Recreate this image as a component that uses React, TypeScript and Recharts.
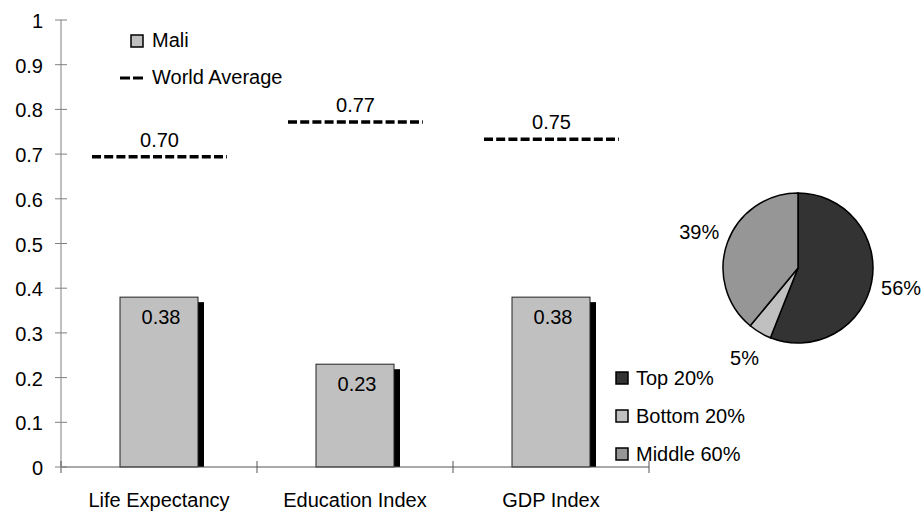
import React from 'react';
import { ComposedChart, Bar, XAxis, YAxis, Legend, LabelList, PieChart, Pie, Cell } from 'recharts';

// ---- data ----
const categories = ['Life Expectancy', 'Education Index', 'GDP Index'];
const maliValues = [0.38, 0.23, 0.38];
const maliLabels = ['0.38', '0.23', '0.38'];
const worldValues = [0.694, 0.772, 0.733];
const worldLabels = ['0.70', '0.77', '0.75'];
const yTicks = [0, 0.1, 0.2, 0.3, 0.4, 0.5, 0.6, 0.7, 0.8, 0.9, 1];
const yTickLabels = ['0', '0.1', '0.2', '0.3', '0.4', '0.5', '0.6', '0.7', '0.8', '0.9', '1'];
const pieNames = ['Top 20%', 'Bottom 20%', 'Middle 60%'];
const pieValues = [56, 5, 39];
const pieLabels = ['56%', '5%', '39%'];

const pieColors = ['#333333', '#c0c0c0', '#969696'];
const FONT = '"Liberation Sans", Arial, sans-serif';
const FS = 20;

const data = categories.map((name, i) => ({
  name,
  mali: maliValues[i],
  maliLabel: maliLabels[i],
  world: worldValues[i],
  worldLabel: worldLabels[i],
}));
const pieData = pieNames.map((name, i) => ({ name, value: pieValues[i], label: pieLabels[i] }));

// ---- layout ----
const W = 924;
const H = 512;
const PLOT_LEFT = 61;
const PLOT_RIGHT = 649;
const PLOT_TOP = 20;
const PLOT_BOTTOM = 467;
const BAND = (PLOT_RIGHT - PLOT_LEFT) / categories.length;

const YTick = (props: any) => {
  const { x, y, index } = props;
  return (
    <g>
      <line x1={x - 6} x2={x + 6} y1={y} y2={y} stroke="#808080" strokeWidth={1} />
      <text x={x - 18} y={y + 8} textAnchor="end" fontSize={FS} fontFamily={FONT} fill="#000">
        {yTickLabels[index]}
      </text>
    </g>
  );
};

const XTick = (props: any) => {
  const { x, y, payload, index } = props;
  const last = index === categories.length - 1;
  return (
    <g>
      <line x1={x - BAND / 2} x2={x - BAND / 2} y1={y - 6} y2={y + 6} stroke="#555" strokeWidth={1} />
      {last && <line x1={x + BAND / 2} x2={x + BAND / 2} y1={y - 6} y2={y + 6} stroke="#555" strokeWidth={1} />}
      <text x={x} y={y + 40} textAnchor="middle" fontSize={FS} fontFamily={FONT} fill="#000">
        {payload.value}
      </text>
    </g>
  );
};

const MaliBar = (props: any) => {
  const { x, y, width, height } = props;
  return (
    <g>
      <rect x={x + 6} y={y + 5} width={width} height={Math.max(0, height - 5)} fill="#000" />
      <rect x={x} y={y} width={width} height={height} fill="#c0c0c0" stroke="#222" strokeWidth={1} />
    </g>
  );
};

const WorldLine = (props: any) => {
  const { x, y, width } = props;
  return (
    <line x1={x} x2={x + width} y1={y} y2={y} stroke="#000" strokeWidth={3.5} strokeDasharray="9 3.2" />
  );
};

const MaliLabel = (props: any) => {
  const { x, y, width, value } = props;
  return (
    <text x={x + width / 2 + 2} y={y + 27} textAnchor="middle" fontSize={FS} fontFamily={FONT} fill="#000">
      {value}
    </text>
  );
};

const WorldLabel = (props: any) => {
  const { x, y, width, value } = props;
  return (
    <text x={x + width / 2} y={y - 10} textAnchor="middle" fontSize={FS} fontFamily={FONT} fill="#000">
      {value}
    </text>
  );
};

const MainLegend = () => (
  <div style={{ fontFamily: FONT, fontSize: FS, color: '#000' }}>
    <div style={{ display: 'flex', alignItems: 'center', height: 37 }}>
      <svg width={24} height={14}>
        <rect x={11} y={1} width={12} height={12} fill="#c0c0c0" stroke="#000" strokeWidth={1.5} />
      </svg>
      <span style={{ marginLeft: 8 }}>Mali</span>
    </div>
    <div style={{ display: 'flex', alignItems: 'center', height: 37 }}>
      <svg width={24} height={14}>
        <line x1={0} x2={10} y1={7} y2={7} stroke="#000" strokeWidth={3} />
        <line x1={13} x2={23} y1={7} y2={7} stroke="#000" strokeWidth={3} />
      </svg>
      <span style={{ marginLeft: 8 }}>World Average</span>
    </div>
  </div>
);

const PieLegend = () => (
  <div style={{ fontFamily: FONT, fontSize: FS, color: '#000' }}>
    {pieData.map((d, i) => (
      <div key={d.name} style={{ display: 'flex', alignItems: 'center', height: 38 }}>
        <svg width={14} height={14}>
          <rect x={1} y={1} width={12} height={12} fill={pieColors[i]} stroke="#000" strokeWidth={1.5} />
        </svg>
        <span style={{ marginLeft: 7 }}>{d.name}</span>
      </div>
    ))}
  </div>
);

const RAD = Math.PI / 180;
const PieLabel = (props: any) => {
  const { cx, cy, midAngle, outerRadius, index } = props;
  const r = outerRadius + 30;
  const x = cx + r * Math.cos(-midAngle * RAD);
  const y = cy + r * Math.sin(-midAngle * RAD);
  return (
    <text x={x} y={y + 7} textAnchor="middle" fontSize={FS} fontFamily={FONT} fill="#000">
      {pieData[index].label}
    </text>
  );
};

const PIE_LEFT = 600;
const PIE_TOP = 150;

export default function App() {
  return (
    <div style={{ position: 'absolute', left: 0, top: 0, width: W, height: H, background: '#fff', fontFamily: FONT }}>
      <ComposedChart
        width={W}
        height={H}
        data={data}
        margin={{ top: PLOT_TOP, right: W - PLOT_RIGHT, bottom: 0, left: 0 }}
      >
        <XAxis
          dataKey="name"
          height={H - PLOT_BOTTOM}
          interval={0}
          tickSize={0}
          tickMargin={0}
          tickLine={false}
          axisLine={{ stroke: '#555', strokeWidth: 1 }}
          tick={<XTick />}
        />
        <XAxis dataKey="name" xAxisId="w" hide />
        <YAxis
          width={PLOT_LEFT}
          domain={[0, 1]}
          ticks={yTicks}
          interval={0}
          tickSize={0}
          tickMargin={0}
          tickLine={false}
          axisLine={{ stroke: '#808080', strokeWidth: 1 }}
          tick={<YTick />}
        />
        <Legend
          verticalAlign="middle"
          align="center"
          content={<MainLegend />}
          wrapperStyle={{ left: 120, top: 22, width: 250 }}
        />
        <Bar dataKey="world" xAxisId="w" barSize={135} shape={<WorldLine />} isAnimationActive={false}>
          <LabelList dataKey="worldLabel" content={<WorldLabel />} />
        </Bar>
        <Bar dataKey="mali" barSize={78} shape={<MaliBar />} isAnimationActive={false}>
          <LabelList dataKey="maliLabel" content={<MaliLabel />} />
        </Bar>
      </ComposedChart>
      <div style={{ position: 'absolute', left: PIE_LEFT, top: PIE_TOP }}>
        <PieChart width={W - PIE_LEFT} height={330} margin={{ top: 0, right: 0, bottom: 0, left: 0 }}>
          <Pie
            data={pieData}
            dataKey="value"
            nameKey="name"
            cx={198}
            cy={118}
            outerRadius={75}
            startAngle={90}
            endAngle={-270}
            stroke="#000"
            strokeWidth={1.5}
            label={<PieLabel />}
            labelLine={false}
            isAnimationActive={false}
          >
            {pieData.map((d, i) => (
              <Cell key={d.name} fill={pieColors[i]} />
            ))}
          </Pie>
          <Legend
            verticalAlign="middle"
            align="center"
            content={<PieLegend />}
            wrapperStyle={{ left: 15, top: 209, width: 200 }}
          />
        </PieChart>
      </div>
    </div>
  );
}
